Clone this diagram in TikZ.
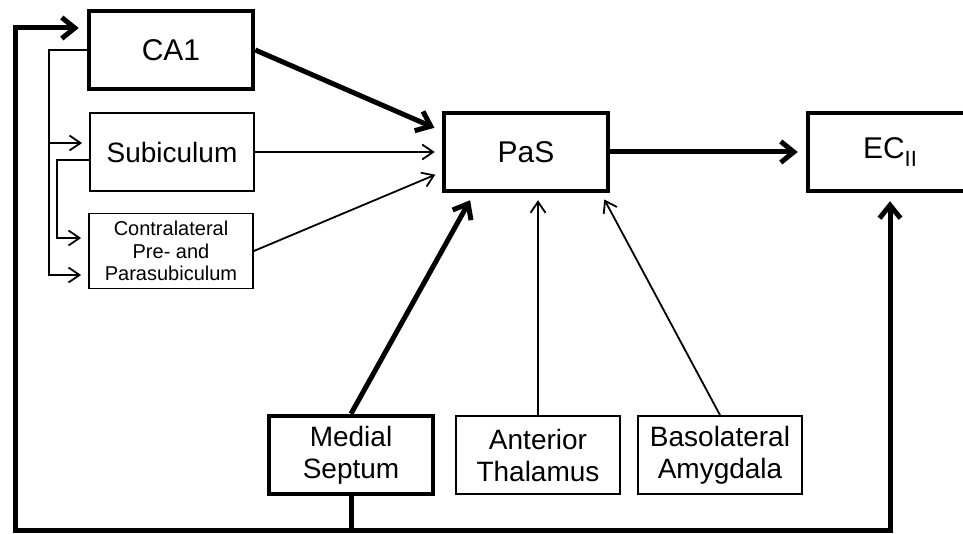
\documentclass[tikz,border=0pt]{standalone}
\usepackage{fontspec}
\setmainfont{Liberation Sans}
\usetikzlibrary{arrows.meta}

\begin{document}
\begin{tikzpicture}[x=1pt, y=-1pt,
    area/.style={rectangle, draw, minimum width=164pt, minimum height=78pt, inner sep=0pt, align=center, font=\fontsize{28}{32}\selectfont},
    thickbox/.style={area, line width=4.5pt},
    thinbox/.style={area, line width=1.8pt},
    bigfont/.style={font=\fontsize{30}{34}\selectfont},
    thickarrow/.style={-{Straight Barb[length=13pt, width=21pt]}, line width=5pt, shorten >=8pt},
    thinarrow/.style={-{Straight Barb[length=11pt, width=15pt]}, line width=1.8pt, shorten >=7pt}
]
    \useasboundingbox (0,0) rectangle (963,534);
    \clip (0,0) rectangle (963,534);

    % left column
    \node[thickbox, bigfont] (ca1) at (171, 50) {CA1};
    \node[thinbox] (sub) at (172, 152) {Subiculum};
    \node[thinbox, minimum height=75pt, font=\fontsize{20}{22.5}\selectfont] (contra) at (171, 251) {Contralateral\\Pre- and\\Parasubiculum};

    % middle and right
    \node[thickbox, bigfont] (pas) at (526, 152) {PaS};
    \node[thickbox, bigfont] (ec) at (890, 152) {EC\raisebox{-8pt}{\fontsize{22}{22}\selectfont II}};

    % bottom row
    \node[thickbox] (septum) at (351, 455) {Medial\\Septum};
    \node[thinbox] (thal) at (538, 455) {Anterior\\Thalamus};
    \node[thinbox] (amyg) at (720, 455) {Basolateral\\Amygdala};

    % loop from the septum
    \coordinate (loopl) at (15, 530);
    \coordinate (loopt) at (15, 28);
    \draw[thickarrow] (septum.south) |- (loopl) -- (loopt) -- (loopt -| ca1.west);
    \draw[thickarrow] (septum.south |- loopl) -| (ec.south);

    % branches on the left
    \coordinate (split) at (49, 50);
    \coordinate (splitsub) at (57, 160);
    \draw[thinarrow] (ca1.west) -- (split) |- ([yshift=9pt]sub.west);
    \draw[thinarrow] (split) |- ([yshift=-24pt]contra.west);
    \draw[thinarrow] ([yshift=-8pt]sub.west) -- (splitsub) |- ([yshift=13pt]contra.west);

    % inputs to PaS
    \draw[thickarrow] (ca1.east) -- ([yshift=21pt]pas.west);
    \draw[thinarrow] (sub.east) -- (pas.west);
    \draw[thinarrow] (contra.east) -- ([yshift=-20pt]pas.west);
    \draw[thickarrow] (septum.north) -- ([xshift=-52pt]pas.south);
    \draw[thinarrow] (thal.north) -- (thal.north |- pas.south);
    \draw[thinarrow] (amyg.north) -- ([xshift=75pt]pas.south);

    % PaS to EC
    \draw[thickarrow] (pas.east) -- (ec.west);
\end{tikzpicture}
\end{document}
